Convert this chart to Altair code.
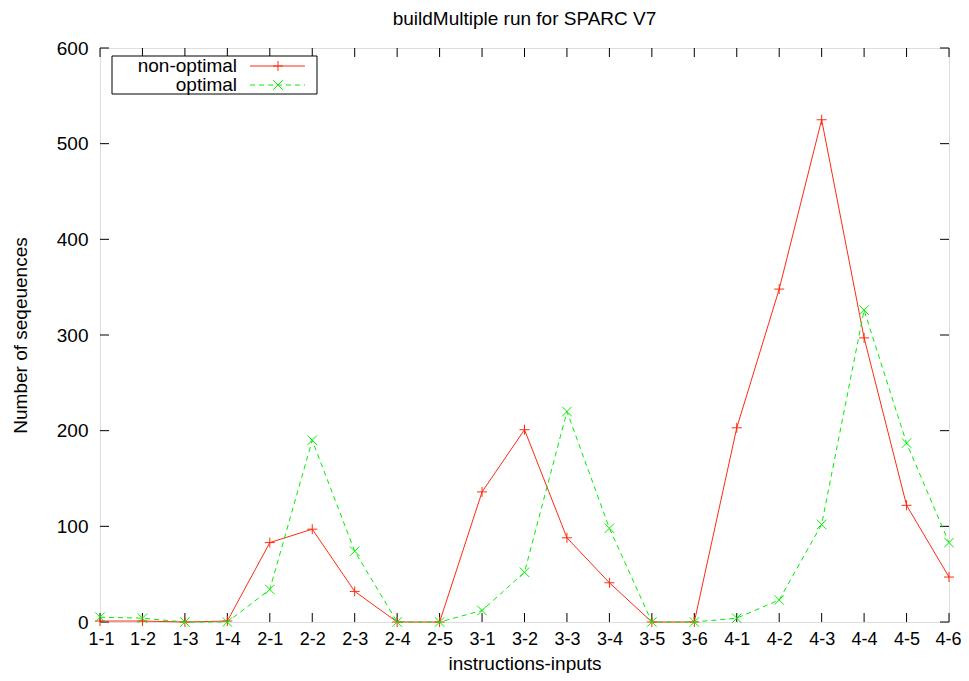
import altair as alt
import pandas as pd

categories = ["1-1", "1-2", "1-3", "1-4", "2-1", "2-2", "2-3", "2-4", "2-5",
              "3-1", "3-2", "3-3", "3-4", "3-5", "3-6",
              "4-1", "4-2", "4-3", "4-4", "4-5", "4-6"]
non_optimal = [1, 1, 0, 1, 83, 97, 32, 0, 0, 136, 201, 88, 41, 0, 0, 203, 348, 525, 297, 122, 47]
optimal = [5, 4, 0, 0, 34, 190, 74, 0, 0, 12, 52, 220, 98, 0, 0, 4, 23, 102, 326, 187, 83]
y_ticks = [0, 100, 200, 300, 400, 500, 600]
series_names = ["non-optimal", "optimal"]

W, H = 849, 574
FONT = "Liberation Sans"
FS = 19
RED = "#ff2a10"
GREEN = "#00f000"
PLUS = "M-1,0L1,0M0,-1L0,1"
CROSS = "M-1,-1L1,1M-1,1L1,-1"

df_non = pd.DataFrame({"cat": categories, "value": non_optimal})
df_opt = pd.DataFrame({"cat": categories, "value": optimal})
df_cat = pd.DataFrame({"cat": categories})
df_y = pd.DataFrame({"value": y_ticks})
one = pd.DataFrame({"k": [0]})

xscale = alt.Scale(type="point", padding=0, domain=categories)
yscale = alt.Scale(domain=[0, 600], nice=False, zero=True)

xaxis = alt.Axis(title="instructions-inputs", labelAngle=0, domain=False, ticks=False,
                 grid=False, labelPadding=8, labelFontSize=18, titleFontSize=FS,
                 labelFlush=True, labelFlushOffset=12,
                 titleFontWeight="normal", titleX=W / 2, titleY=47,
                 titleBaseline="alphabetic", titleAlign="center", labelFont=FONT,
                 titleFont=FONT, labelColor="black", titleColor="black")
yaxis = alt.Axis(title="Number of seqeuences", values=y_ticks, domain=False, ticks=False,
                 grid=False, labelPadding=12, labelFontSize=FS, titleFontSize=FS,
                 titleFontWeight="normal", titleX=-80, titleY=H / 2, titleAngle=-90,
                 titleAlign="center", titleBaseline="middle", labelFont=FONT,
                 titleFont=FONT, labelColor="black", titleColor="black")


def xe():
    return alt.X("cat:N", scale=xscale, sort=categories, axis=xaxis)


def ye():
    return alt.Y("value:Q", scale=yscale, axis=yaxis)


line_non = alt.Chart(df_non).mark_line(color=RED, strokeWidth=1).encode(x=xe(), y=ye())
pts_non = alt.Chart(df_non).mark_point(shape=PLUS, filled=False, color=RED, size=100,
                                       strokeWidth=1, opacity=1).encode(x=xe(), y=ye())
line_opt = alt.Chart(df_opt).mark_line(color=GREEN, strokeWidth=1, strokeDash=[5, 4]).encode(x=xe(), y=ye())
pts_opt = alt.Chart(df_opt).mark_point(shape=CROSS, filled=False, color=GREEN, size=90,
                                       strokeWidth=1, opacity=1).encode(x=xe(), y=ye())

# inward ticks on all four sides (gnuplot style)
tick_bottom = alt.Chart(df_cat).mark_rule(color="black", strokeWidth=1).encode(
    x=xe(), y=alt.value(H), y2=alt.value(H - 9))
tick_top = alt.Chart(df_cat).mark_rule(color="black", strokeWidth=1).encode(
    x=xe(), y=alt.value(0), y2=alt.value(9))
tick_left = alt.Chart(df_y).mark_rule(color="black", strokeWidth=1).encode(
    y=ye(), x=alt.value(0), x2=alt.value(9))
tick_right = alt.Chart(df_y).mark_rule(color="black", strokeWidth=1).encode(
    y=ye(), x=alt.value(W), x2=alt.value(W - 9))

# legend (gnuplot style key)
leg_box = alt.Chart(one).mark_rect(fill="white", stroke="black", strokeWidth=1).encode(
    x=alt.value(12), x2=alt.value(217), y=alt.value(8), y2=alt.value(46))
leg_t1 = alt.Chart(one).mark_text(align="right", baseline="middle", font=FONT, fontSize=FS,
                                  color="black").encode(
    x=alt.value(137), y=alt.value(18), text=alt.value(series_names[0]))
leg_t2 = alt.Chart(one).mark_text(align="right", baseline="middle", font=FONT, fontSize=FS,
                                  color="black").encode(
    x=alt.value(137), y=alt.value(37), text=alt.value(series_names[1]))
leg_l1 = alt.Chart(one).mark_rule(color=RED, strokeWidth=1).encode(
    x=alt.value(150), x2=alt.value(205), y=alt.value(18))
leg_l2 = alt.Chart(one).mark_rule(color=GREEN, strokeWidth=1, strokeDash=[5, 4]).encode(
    x=alt.value(150), x2=alt.value(205), y=alt.value(37))
leg_p1 = alt.Chart(one).mark_point(shape=PLUS, filled=False, color=RED, size=100,
                                   strokeWidth=1, opacity=1).encode(
    x=alt.value(178), y=alt.value(18))
leg_p2 = alt.Chart(one).mark_point(shape=CROSS, filled=False, color=GREEN, size=90,
                                   strokeWidth=1, opacity=1).encode(
    x=alt.value(178), y=alt.value(37))

chart = alt.layer(
    tick_bottom, tick_top, tick_left, tick_right,
    line_non, pts_non, line_opt, pts_opt,
    leg_box, leg_t1, leg_t2, leg_l1, leg_l2, leg_p1, leg_p2,
).properties(
    width=W, height=H,
    title=alt.TitleParams("buildMultiple run for SPARC V7", font=FONT, fontSize=FS,
                          fontWeight="normal", color="black", anchor="middle", offset=10),
    padding={"left": 92, "top": 40, "right": 12, "bottom": 51},
    autosize=alt.AutoSizeParams(type="none"),
).configure_view(stroke="black", strokeWidth=1.5).configure(background="white")

chart.save("out.html", embed_options={"renderer": "svg", "actions": False})
